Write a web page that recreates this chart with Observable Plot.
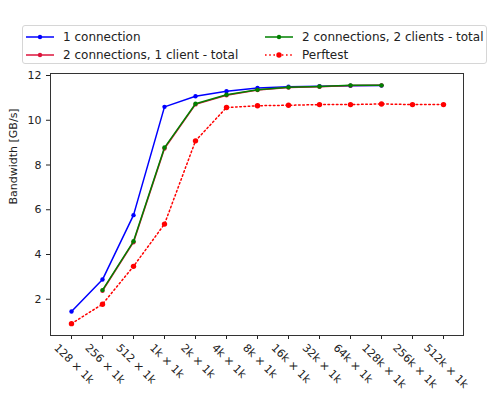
<!DOCTYPE html>
<html><head><meta charset="utf-8">
<script src="https://cdn.jsdelivr.net/npm/d3@7"></script>
<script src="https://cdn.jsdelivr.net/npm/@observablehq/plot@0.6"></script>
<style>
body{margin:0;background:#fff;font-family:"DejaVu Sans",sans-serif;}
#wrap{position:relative;width:490px;height:395px;overflow:hidden;}
#chart{position:absolute;left:0;top:0;}
#legend{position:absolute;left:22px;top:25px;width:465px;height:39px;border:1px solid #d6d6d6;border-radius:3px;background:#fff;box-sizing:border-box;}
.item{position:absolute;display:flex;align-items:center;font-size:12px;color:#222;white-space:nowrap;height:14px;}
.item svg{margin-right:8px;}
</style></head>
<body><div id="wrap"><div id="chart"></div><div id="legend"></div></div>
<script>
// ---- data ----
const sizes = ["128 × 1k", "256 × 1k", "512 × 1k", "1k × 1k", "2k × 1k", "4k × 1k", "8k × 1k", "16k × 1k", "32k × 1k", "64k × 1k", "128k × 1k", "256k × 1k", "512k × 1k"];
const seriesNames = ["1 connection", "2 connections, 1 client - total", "2 connections, 2 clients - total", "Perftest"];
const oneConnection = [1.45, 2.88, 5.76, 10.6, 11.07, 11.3, 11.44, 11.5, 11.52, 11.54, 11.55];
const twoConnOneClient = [null, 2.38, 4.55, 8.74, 10.71, 11.12, 11.35, 11.46, 11.5, 11.55, 11.56];
const twoConnTwoClients = [null, 2.41, 4.59, 8.78, 10.74, 11.14, 11.36, 11.47, 11.51, 11.56, 11.56];
const perftest = [0.91, 1.78, 3.47, 5.36, 9.08, 10.57, 10.65, 10.67, 10.7, 10.7, 10.73, 10.7, 10.7];
const yLabel = "Bandwidth [GB/s]";

// ---- styles ----
const styles = [
  {color: "#0000ff", dash: null, r: 2.2},
  {color: "#dc143c", dash: null, r: 2.2},
  {color: "#008000", dash: null, r: 2.2},
  {color: "#ff0000", dash: "1.6,2.6", r: 2.7}
];
const valueArrays = [oneConnection, twoConnOneClient, twoConnTwoClients, perftest];
const rows = [];
valueArrays.forEach((vals, s) => vals.forEach((v, i) => { if (v != null) rows.push({s: seriesNames[s], x: sizes[i], v}); }));

const marks = [Plot.frame({stroke: "#333", strokeWidth: 1})];
seriesNames.forEach((name, s) => {
  const st = styles[s];
  marks.push(Plot.line(rows, {filter: d => d.s === name, x: "x", y: "v", stroke: st.color, strokeWidth: 1.5, strokeDasharray: st.dash}));
  marks.push(Plot.dot(rows, {filter: d => d.s === name, x: "x", y: "v", fill: st.color, r: st.r, stroke: "none"}));
});
marks.push(Plot.text(sizes, {x: d => d, text: d => d, frameAnchor: "bottom", rotate: 45, textAnchor: "middle", fill: "#222"}));
marks.push(Plot.text([yLabel], {text: d => d, frameAnchor: "left", rotate: -90, dx: -37, fill: "#222"}));

const chart = Plot.plot({
  width: 490, height: 395,
  marginTop: 73, marginBottom: 60, marginLeft: 50, marginRight: 27,
  style: {fontSize: "11px", fontFamily: "DejaVu Sans", background: "transparent", color: "#222"},
  x: {type: "point", domain: sizes, padding: 0.6, tickSize: 4, tickFormat: () => "", label: null},
  y: {domain: [0.38, 12.09], ticks: 6, tickSize: 4, label: null},
  marks
});
document.getElementById("chart").append(chart);

// center rotated tick labels under their ticks (matplotlib ha=center)
Array.from(chart.querySelectorAll("text")).forEach(t => {
  if (!sizes.includes(t.textContent)) return;
  const tr = t.getAttribute("transform") || "";
  if (!tr.includes("rotate")) return;
  const m = /translate\(\s*([-\d.e]+)[ ,]+([-\d.e]+)\s*\)/.exec(tr);
  if (!m) return;
  const L = t.getComputedTextLength();
  const x = +m[1], y = +m[2];
  const off = 9 + (L + 11) * Math.SQRT1_2 / 2;
  t.setAttribute("transform", `translate(${x},${y + off}) rotate(45)`);
});

// legend
const legend = document.getElementById("legend");
const pos = [[2, 4], [2, 21.5], [241, 4], [241, 21.5]];
[0, 1, 2, 3].forEach((s, k) => {
  const st = styles[s];
  const div = document.createElement("div");
  div.className = "item";
  div.style.left = pos[k][0] + "px";
  div.style.top = pos[k][1] + "px";
  div.innerHTML = `<svg width="30" height="10"><line x1="1" x2="29" y1="5" y2="5" stroke="${st.color}" stroke-width="1.5" ${st.dash ? `stroke-dasharray="${st.dash}"` : ""}/><circle cx="15" cy="5" r="${st.r}" fill="${st.color}"/></svg><span>${seriesNames[s]}</span>`;
  legend.append(div);
});
</script></body></html>
